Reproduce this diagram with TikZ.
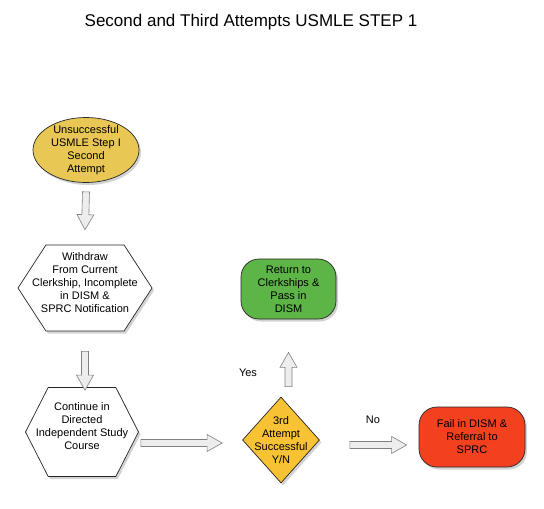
\documentclass[tikz,border=0pt]{standalone}
\usepackage{fontspec}
\setmainfont{Liberation Sans}
\usetikzlibrary{shapes.geometric,shapes.symbols,shadows,calc,positioning}
\definecolor{goldfill}{HTML}{E8C755}
\definecolor{ambfill}{HTML}{F7C234}
\definecolor{passfill}{HTML}{5DB447}
\definecolor{failfill}{HTML}{F3401F}
\tikzset{shp/.style={draw=black!85,line width=0.7pt,align=center,font=\fontsize{11}{13}\selectfont,
 drop shadow={opacity=0.35,shadow xshift=2pt,shadow yshift=-2.5pt}},
 txt/.style={align=center,font=\fontsize{11}{13}\selectfont},
 hexa/.style={shp,signal,signal to=west and east,fill=white,inner sep=0pt},
 pill/.style={shp,rounded corners=18pt,inner sep=0pt},
 lbl/.style={font=\fontsize{11}{13}\selectfont},
 blockarr/.style={draw=black!50,fill=black!7,line width=0.6pt,line join=miter,
 to path={($(\tikztostart)!3.5pt!90:(\tikztotarget)$)
 --($(\tikztotarget)!15pt!(\tikztostart)!3.5pt!90:(\tikztotarget)$)
 --($(\tikztotarget)!15pt!(\tikztostart)!8.5pt!90:(\tikztotarget)$)
 --(\tikztotarget)
 --($(\tikztotarget)!15pt!(\tikztostart)!8.5pt!-90:(\tikztotarget)$)
 --($(\tikztotarget)!15pt!(\tikztostart)!3.5pt!-90:(\tikztotarget)$)
 --($(\tikztostart)!3.5pt!-90:(\tikztotarget)$)--cycle}}}

\begin{document}
\begin{tikzpicture}[x=1pt,y=-1pt]
\useasboundingbox (0,0) rectangle (544,509);
\node[font=\fontsize{17}{20}\selectfont] (title) at (251,22) {Second and Third Attempts USMLE STEP 1};
\node[shp,ellipse,fill=goldfill,minimum width=106pt,minimum height=65pt,inner xsep=0pt,inner ysep=-2pt] (unsucc) at (86,150) {Unsuccessful\\USMLE Step I\\Second\\Attempt};
\node[hexa,minimum width=134pt,minimum height=86pt,signal pointer angle=114,label={[txt,yshift=5pt]center:{Withdraw\\From Current\\Clerkship, Incomplete\\in DISM \&\\SPRC Notification}}] (withdraw) at (85,288) {};
\node[hexa,minimum width=113pt,minimum height=89pt,signal pointer angle=126,label={[txt,yshift=6pt]center:{Continue in\\Directed\\Independent Study\\Course}}] (dis) at (82,432) {};
\node[shp,diamond,fill=ambfill,minimum width=77pt,minimum height=86pt,inner sep=0pt,label={[txt]center:{3rd\\Attempt\\Successful\\Y/N}}] (third) at (281,440) {};
\node[pill,fill=passfill,minimum width=95pt,minimum height=60pt] (pass) at (288.5,289) {Return to\\Clerkships \&\\Pass in\\DISM};
\node[pill,fill=failfill,minimum width=106pt,minimum height=60pt] (fail) at (472,437) {Fail in DISM \&\\Referral to\\SPRC};
\node[lbl] (yes) at (248,373) {Yes};
\node[lbl] (no) at (373,420) {No};
\coordinate (a1s) at ($(unsucc.south)+(0,9)$);
\coordinate (a1e) at ($(withdraw.north)+(0,-15)$);
\coordinate (a2s) at ($(withdraw.south)+(0,20)$);
\coordinate (a2e) at ($(a2s |- dis.north)+(0,3)$);
\coordinate (a3s) at ($(dis.east |- third.west)+(2,3)$);
\coordinate (a3e) at ($(third.west)+(-20,3)$);
\coordinate (a4s) at ($(pass.south |- third.north)+(0,-10)$);
\coordinate (a4e) at ($(pass.south)+(0,33)$);
\coordinate (a5s) at ($(third.east)+(30,5)$);
\coordinate (a5e) at ($(fail.west |- a5s)+(-12,0)$);
\foreach \s/\e in {a1s/a1e,a2s/a2e,a3s/a3e,a4s/a4e,a5s/a5e}{\draw[blockarr] (\s) to (\e);}
\end{tikzpicture}
\end{document}
